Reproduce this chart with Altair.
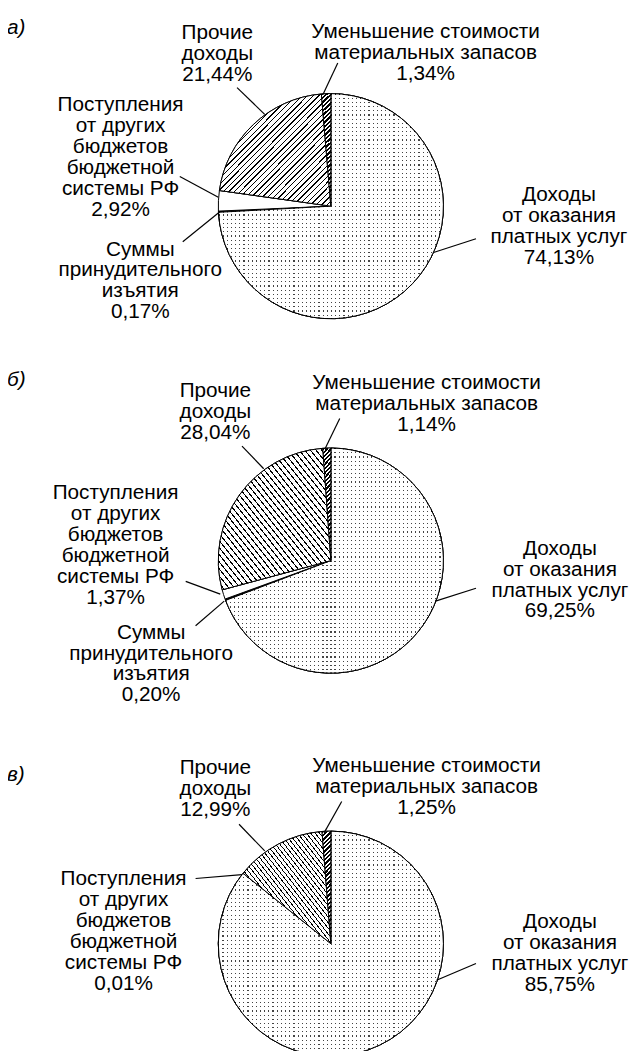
import altair as alt
import pandas as pd

# ---------------- data ----------------
panels = ["а)", "б)", "в)"]
categories = [
    "Доходы от оказания платных услуг",
    "Суммы принудительного изъятия",
    "Поступления от других бюджетов бюджетной системы РФ",
    "Прочие доходы",
    "Уменьшение стоимости материальных запасов",
]
label_texts = [
    "Доходы\nот оказания\nплатных услуг",
    "Суммы\nпринудительного\nизъятия",
    "Поступления\nот других\nбюджетов\nбюджетной\nсистемы РФ",
    "Прочие\nдоходы",
    "Уменьшение стоимости\nматериальных запасов",
]
values_a = [74.13, 0.17, 2.92, 21.44, 1.34]
values_b = [69.25, 0.20, 1.37, 28.04, 1.14]
values_c = [85.75, None, 0.01, 12.99, 1.25]
panel_values = [values_a, values_b, values_c]

# ---------------- layout / style (page pixels) ----------------
OFF = 8
W, H = 631, 1043
FONT = "Liberation Sans"
FS = 21
LH = 21.2
pie_center = {"а)": (335, 202), "б)": (335, 561), "в)": (335, 949)}
pie_radius = 114
base_fills = ["#444444", "#000000", "#ffffff", "#ffffff", "#ffffff"]

panel_letter_pos = {"а)": (7, 28), "б)": (7, 384), "в)": (7, 784)}
label_pos = {
    "а)": [(566, 197), (142, 252), (122, 106), (220, 33), (431, 32)],
    "б)": [(567, 555), (153, 640), (117, 499), (218, 395), (432, 387)],
    "в)": [(567, 933), None, (125, 890), (218, 777), (432, 775)],
}
leader_pos = {
    "а)": [(482, 235, 439, 249), (185, 238, 221, 209), (182, 172, 221, 193),
           (240, 82, 268, 109), (342, 57, 327, 89)],
    "б)": [(482, 589, 441, 602), (198, 627, 227, 602), (188, 582, 223, 595),
           (245, 445, 267, 468), (344, 417, 329, 448)],
    "в)": [(482, 969, 442, 986), None, (198, 883, 245, 879),
           (242, 828, 268, 855), (346, 805, 328, 837)],
}


def stripes(n, frac, x1, y1, x2, y2, ink="black", paper="white"):
    stops = []
    for i in range(n):
        a, b, c = i / n, (i + frac) / n, (i + 1) / n
        stops += [alt.GradientStop(offset=a, color=ink),
                  alt.GradientStop(offset=b, color=ink),
                  alt.GradientStop(offset=b, color=paper),
                  alt.GradientStop(offset=c, color=paper)]
    return alt.LinearGradient(gradient="linear", stops=stops,
                              x1=x1, y1=y1, x2=x2, y2=y2)


CLEAR = "rgba(255,255,255,0)"
# dotted texture = dark base seen through gaps of two white band screens
dots_h = stripes(54, 0.28, 0, 0, 0, 1, ink=CLEAR, paper="white")
dots_v = stripes(54, 0.28, 0, 0, 1, 0, ink=CLEAR, paper="white")
hatch_fwd = stripes(40, 0.25, 0, 0, 1, 1)      # ////
hatch_back = stripes(40, 0.25, 0, 1, 1, 0)     # \\\\
thick = stripes(26, 0.55, 0, 0, 0.08, 1)       # thick black/white bars
hatch_for_panel = {"а)": hatch_fwd, "б)": hatch_back, "в)": hatch_back}


def fmt(v):
    return f"{v:.2f}".replace(".", ",") + "%"


xs = alt.Scale(domain=[0, W], range=[0, W], nice=False, zero=False)
ys = alt.Scale(domain=[0, H], range=[0, H], nice=False, zero=False)
ts = alt.Scale(domain=[0, 100])

layers = []
label_rows, leader_rows, letter_rows = [], [], []
for p, vals in zip(panels, panel_values):
    rows = [
        {"cat": c, "value": v, "idx": i}
        for i, (c, v) in enumerate(zip(categories, vals))
        if v is not None
    ]
    cx, cy = pie_center[p]
    pie = (
        alt.Chart(pd.DataFrame(rows))
        .transform_window(cum="sum(value)", sort=[alt.SortField("idx")],
                          frame=[None, 0])
        .transform_calculate(start="datum.cum - datum.value")
    )
    enc = dict(theta=alt.Theta("start:Q", scale=ts), theta2="cum:Q")
    arc_kw = dict(radius=pie_radius, x=cx - OFF, y=cy - OFF,
                  stroke="black", strokeWidth=1)
    layers.append(
        pie.mark_arc(**arc_kw).encode(
            fill=alt.Fill("cat:N",
                          scale=alt.Scale(domain=categories, range=base_fills),
                          legend=None),
            **enc)
    )
    overlays = [(categories[0], dots_h), (categories[0], dots_v),
                (categories[3], hatch_for_panel[p]), (categories[4], thick)]
    for cat, grad in overlays:
        layers.append(
            pie.transform_filter(alt.datum.cat == cat)
            .mark_arc(fill=grad, **arc_kw)
            .encode(**enc)
        )
    for i, v in enumerate(vals):
        if v is None:
            continue
        lx, ly = label_pos[p][i]
        label_rows.append({"x": lx - OFF, "y": ly - OFF,
                           "text": label_texts[i] + "\n" + fmt(v)})
        x1, y1, x2, y2 = leader_pos[p][i]
        leader_rows.append({"x": x1 - OFF, "y": y1 - OFF,
                            "x2": x2 - OFF, "y2": y2 - OFF})
    px, py = panel_letter_pos[p]
    letter_rows.append({"x": px - OFF, "y": py - OFF, "text": p})

leaders = (
    alt.Chart(pd.DataFrame(leader_rows))
    .mark_rule(color="black", strokeWidth=1.2)
    .encode(
        x=alt.X("x:Q", scale=xs, axis=None),
        y=alt.Y("y:Q", scale=ys, axis=None),
        x2="x2:Q",
        y2="y2:Q",
    )
)
labels = (
    alt.Chart(pd.DataFrame(label_rows))
    .mark_text(align="center", baseline="alphabetic", lineBreak="\n",
               lineHeight=LH, font=FONT, fontSize=FS, color="black")
    .encode(
        x=alt.X("x:Q", scale=xs, axis=None),
        y=alt.Y("y:Q", scale=ys, axis=None),
        text="text:N",
    )
)
letters = (
    alt.Chart(pd.DataFrame(letter_rows))
    .mark_text(align="left", baseline="alphabetic", font=FONT, fontSize=FS,
               fontStyle="italic", color="black")
    .encode(
        x=alt.X("x:Q", scale=xs, axis=None),
        y=alt.Y("y:Q", scale=ys, axis=None),
        text="text:N",
    )
)

chart = (
    alt.layer(*layers, leaders, labels, letters)
    .properties(width=W, height=H, padding=0,
                autosize=alt.AutoSizeParams(type="none"))
    .configure_view(stroke=None)
)

chart.save("out.html", embed_options={"renderer": "svg", "actions": False})
